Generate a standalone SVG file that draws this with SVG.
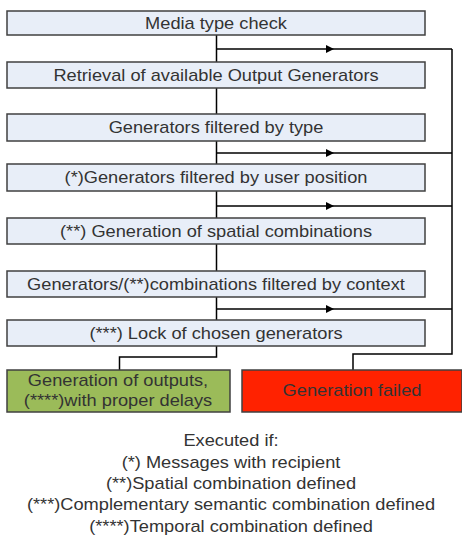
<svg xmlns="http://www.w3.org/2000/svg" width="462" height="538" viewBox="0 0 462 538">
<style>
.box{fill:#e8eef8;stroke:#404040;stroke-width:1.5}
.t{font-family:"Liberation Sans",Arial,sans-serif;font-size:16px;fill:#333;text-anchor:middle}
.c{fill:none;stroke:#000;stroke-width:1.5}
</style>
<defs>
<marker id="ar" markerWidth="8" markerHeight="8" refX="4" refY="4" orient="auto" markerUnits="userSpaceOnUse">
<path d="M0,0 L8,4 L0,8 z" fill="#000"/>
</marker>
</defs>
<rect width="462" height="538" fill="#fff"/>
<g id="connectors">
<path class="c" d="M216.5,35 V320"/>
<path class="c" d="M216.5,49 H330" marker-end="url(#ar)"/><path class="c" d="M330,49 H452"/>
<path class="c" d="M216.5,153 H330" marker-end="url(#ar)"/><path class="c" d="M330,153 H452"/>
<path class="c" d="M216.5,206 H330" marker-end="url(#ar)"/><path class="c" d="M330,206 H452"/>
<path class="c" d="M216.5,309 H330" marker-end="url(#ar)"/><path class="c" d="M330,309 H452"/>
<path class="c" d="M452,49 V354 H353 V370"/>
<path class="c" d="M216.5,346 V357 H119.5 V370"/>
</g>
<g id="n1"><rect class="box" x="7" y="11" width="418" height="24"/><text class="t" transform="translate(216,29) scale(1.14,1)">Media type check</text></g>
<g id="n2"><rect class="box" x="7" y="62" width="418" height="26"/><text class="t" transform="translate(216,81) scale(1.14,1)">Retrieval of available Output Generators</text></g>
<g id="n3"><rect class="box" x="7" y="114" width="418" height="27"/><text class="t" transform="translate(216,133) scale(1.14,1)">Generators filtered by type</text></g>
<g id="n4"><rect class="box" x="7" y="164" width="418" height="27"/><text class="t" transform="translate(216,183) scale(1.14,1)">(*)Generators filtered by user position</text></g>
<g id="n5"><rect class="box" x="7" y="218" width="418" height="26"/><text class="t" transform="translate(216,237) scale(1.14,1)">(**) Generation of spatial combinations</text></g>
<g id="n6"><rect class="box" x="7" y="271" width="418" height="26"/><text class="t" transform="translate(216,289.5) scale(1.14,1)">Generators/(**)combinations filtered by context</text></g>
<g id="n7"><rect class="box" x="7" y="320" width="418" height="26"/><text class="t" transform="translate(216,338.5) scale(1.14,1)">(***) Lock of chosen generators</text></g>
<g id="n8"><rect x="7" y="370" width="223" height="42" fill="#9bbb59" stroke="#404040" stroke-width="1.5"/><text class="t" transform="translate(118,385.5) scale(1.14,1)">Generation of outputs,</text><text class="t" transform="translate(118,406) scale(1.14,1)">(****)with proper delays</text></g>
<g id="n9"><rect x="242" y="370" width="220" height="42" fill="#ff2200" stroke="#404040" stroke-width="1.5"/><text class="t" transform="translate(352,396) scale(1.14,1)">Generation failed</text></g>
<g id="legend">
<text class="t" transform="translate(231,446) scale(1.14,1)">Executed if:</text>
<text class="t" transform="translate(231,467.5) scale(1.14,1)">(*) Messages with recipient</text>
<text class="t" transform="translate(231,489) scale(1.14,1)">(**)Spatial combination defined</text>
<text class="t" transform="translate(231,510) scale(1.14,1)">(***)Complementary semantic combination defined</text>
<text class="t" transform="translate(231,531.5) scale(1.14,1)">(****)Temporal combination defined</text>
</g>
</svg>
